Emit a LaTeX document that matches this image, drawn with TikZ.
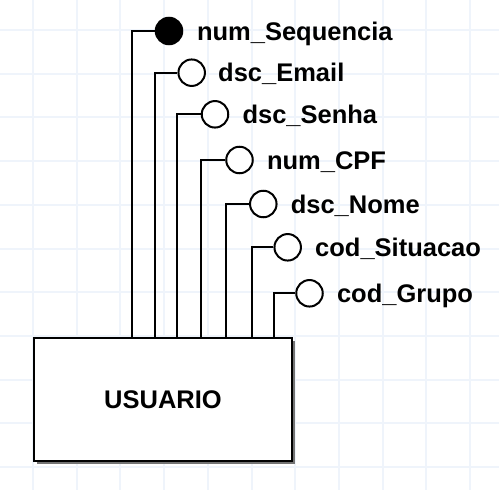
\documentclass[tikz,border=0pt]{standalone}
\usepackage{fontspec}
\setmainfont{Liberation Sans}
\usepackage{tikz}
\usetikzlibrary{positioning, calc, shadows}
\definecolor{gridcol}{RGB}{239,244,251}

\begin{document}
\begin{tikzpicture}[x=1pt,y=-1pt,line width=2pt,
		attr node/.style={circle,draw,fill=white,inner sep=0pt,minimum size=26.5pt},
		key node/.style={attr node,fill=black},
		name node/.style={anchor=base west,inner sep=0pt,font=\fontsize{25.5}{30}\selectfont\bfseries},
		entity node/.style={rectangle,draw,fill=white,minimum width=258pt,minimum height=123pt,
			font=\fontsize{25.5}{30}\selectfont\bfseries,
			drop shadow={shadow xshift=3pt,shadow yshift=-3pt,fill=black!55,opacity=1}}]
		
		\useasboundingbox[fill=white] (0,0) rectangle (499,490);
		\foreach \i in {0,...,10}{
			\draw[gridcol,line width=2pt] ({33+43.7*\i},0) -- ++(0,490);
			\draw[gridcol,line width=2pt] (0,{30+43.7*\i}) -- ++(499,0);
		}
		
		\node[entity node] (usuario) at (163,399.5) {USUARIO};
		
		\node[key node] (seq) at (169,31) {};
		\node[attr node] (email) at (191.7,72.7) {};
		\node[attr node] (senha) at (215,114.3) {};
		\node[attr node] (cpf) at (239.5,160) {};
		\node[attr node] (nome) at (263.3,204) {};
		\node[attr node] (situacao) at (287.7,247.3) {};
		\node[attr node] (grupo) at (309.5,293.3) {};
		
		\node[name node] (lseq) at ($(seq)+(27,9)$) {num\_Sequencia};
		\node[name node] (lemail) at ($(email)+(25.5,9)$) {dsc\_Email};
		\node[name node] (lsenha) at ($(senha)+(26.5,9)$) {dsc\_Senha};
		\node[name node] (lcpf) at ($(cpf)+(26.5,9)$) {num\_CPF};
		\node[name node] (lnome) at ($(nome)+(26.5,9)$) {dsc\_Nome};
		\node[name node] (lsituacao) at ($(situacao)+(26.5,9)$) {cod\_Situacao};
		\node[name node] (lgrupo) at ($(grupo)+(26.5,9)$) {cod\_Grupo};
		
		\coordinate (kseq) at (131.5,31);
		\coordinate (kemail) at (155,72.7);
		\coordinate (ksenha) at (177.3,114.3);
		\coordinate (kcpf) at (201.3,160);
		\coordinate (knome) at (225.7,204);
		\coordinate (ksituacao) at (251.7,247.3);
		\coordinate (kgrupo) at (273.7,293.3);
		
		\draw (seq) -- (kseq) -- (kseq |- usuario.north);
		\draw (email) -- (kemail) -- (kemail |- usuario.north);
		\draw (senha) -- (ksenha) -- (ksenha |- usuario.north);
		\draw (cpf) -- (kcpf) -- (kcpf |- usuario.north);
		\draw (nome) -- (knome) -- (knome |- usuario.north);
		\draw (situacao) -- (ksituacao) -- (ksituacao |- usuario.north);
		\draw (grupo) -- (kgrupo) -- (kgrupo |- usuario.north);
		
	\end{tikzpicture}
\end{document}
